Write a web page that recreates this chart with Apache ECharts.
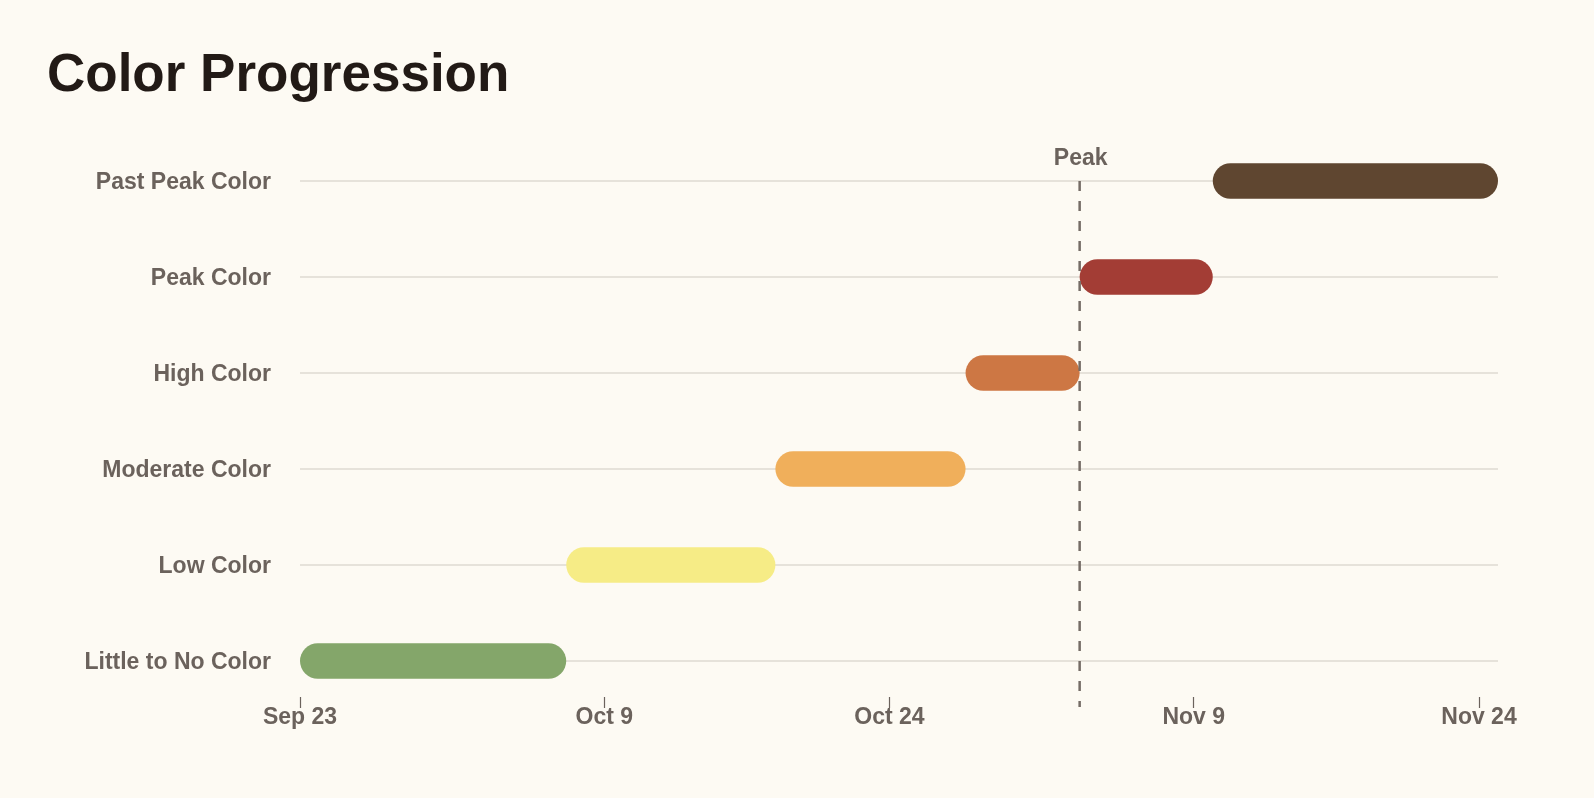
<!DOCTYPE html>
<html><head><meta charset="utf-8">
<style>html,body{margin:0;padding:0;background:#fdfaf3;} #chart{width:1594px;height:798px;}</style>
<script src="https://cdn.jsdelivr.net/npm/echarts@6/dist/echarts.min.js"></script>
</head><body><div id="chart"></div>
<script>
const categories = ['Little to No Color','Low Color','Moderate Color','High Color','Peak Color','Past Peak Color'];
const startDates = ['2024-09-23','2024-10-07','2024-10-18','2024-10-28','2024-11-03','2024-11-10'];
const endDates   = ['2024-10-07','2024-10-18','2024-10-28','2024-11-03','2024-11-10','2024-11-25'];
const barColors  = ['#84a66a','#f6ec86','#f0af5b','#cd7744','#a33d35','#5f4630'];
const peakDate = '2024-11-03';
const peakLabel = 'Peak';
const tickDates  = ['2024-09-23','2024-10-09','2024-10-24','2024-11-09','2024-11-24'];
const tickLabels = ['Sep 23','Oct 9','Oct 24','Nov 9','Nov 24'];
const axisMin = '2024-09-23';
const axisMax = '2024-11-25';

function t(s){ const p = s.split('-').map(Number); return Date.UTC(p[0], p[1]-1, p[2]); }
const tickValues = tickDates.map(t);
const FONT = '"Liberation Sans", Arial, Helvetica, sans-serif';
const TEXT = '#6b625c';

const barData = categories.map((c, i) => ({
  value: [i, t(startDates[i]), t(endDates[i])],
  itemStyle: { color: barColors[i] }
}));

const chart = echarts.init(document.getElementById('chart'));
chart.setOption({
  backgroundColor: '#fdfaf3',
  animation: false,
  title: {
    text: 'Color Progression', left: 42, top: 45,
    textStyle: { fontSize: 53, fontWeight: 'bold', color: '#221a16', fontFamily: FONT }
  },
  grid: { left: 300, right: 96, top: 133, bottom: 89, containLabel: false },
  xAxis: {
    type: 'value', min: t(axisMin), max: t(axisMax), offset: -12,
    axisLine: { show: false },
    splitLine: { show: false },
    axisTick: { show: true, customValues: tickValues, length: 11, lineStyle: { color: TEXT, width: 1.2 } },
    axisLabel: {
      customValues: tickValues, margin: 9,
      fontSize: 23, fontWeight: 'bold', color: TEXT, fontFamily: FONT,
      formatter: function (v) { const i = tickValues.indexOf(v); return i >= 0 ? tickLabels[i] : ''; }
    }
  },
  yAxis: {
    type: 'category', data: categories,
    axisLine: { show: false }, axisTick: { show: false }, splitLine: { show: false },
    axisLabel: { margin: 29, verticalAlign: 'top', lineHeight: 4, fontSize: 23, fontWeight: 'bold', color: TEXT, fontFamily: FONT }
  },
  series: [
    {
      type: 'custom', z: 2,
      encode: { x: [1, 2], y: 0 },
      data: barData,
      renderItem: function (params, api) {
        const cat = api.value(0);
        const s = api.coord([api.value(1), cat]);
        const e = api.coord([api.value(2), cat]);
        const h = api.size([0, 1])[1] * 0.37;
        const cs = params.coordSys;
        return {
          type: 'group', children: [
            { type: 'line', z2: 0, shape: { x1: cs.x, y1: s[1], x2: cs.x + cs.width, y2: s[1] },
              style: { stroke: '#dedad2', lineWidth: 1.5 } },
            { type: 'rect', z2: 10, shape: { x: s[0], y: s[1] - h / 2, width: e[0] - s[0], height: h, r: h / 2 },
              style: { fill: api.visual('color') } }
          ]
        };
      }
    },
    {
      type: 'custom', z: 3,
      encode: { x: 0 },
      data: [[t(peakDate)]],
      renderItem: function (params, api) {
        const top = api.coord([api.value(0), categories.length - 1]);
        const cs = params.coordSys;
        return {
          type: 'group', children: [
            { type: 'line', shape: { x1: top[0], y1: top[1], x2: top[0], y2: cs.y + cs.height - 2 },
              style: { stroke: '#756c66', lineWidth: 2.5, lineDash: [10, 10] } },
            { type: 'text', x: top[0] + 1, y: top[1] - 22,
              style: { text: peakLabel, fill: TEXT, font: 'bold 23px ' + FONT, align: 'center', verticalAlign: 'middle' } }
          ]
        };
      }
    }
  ]
});
</script>
</body></html>
